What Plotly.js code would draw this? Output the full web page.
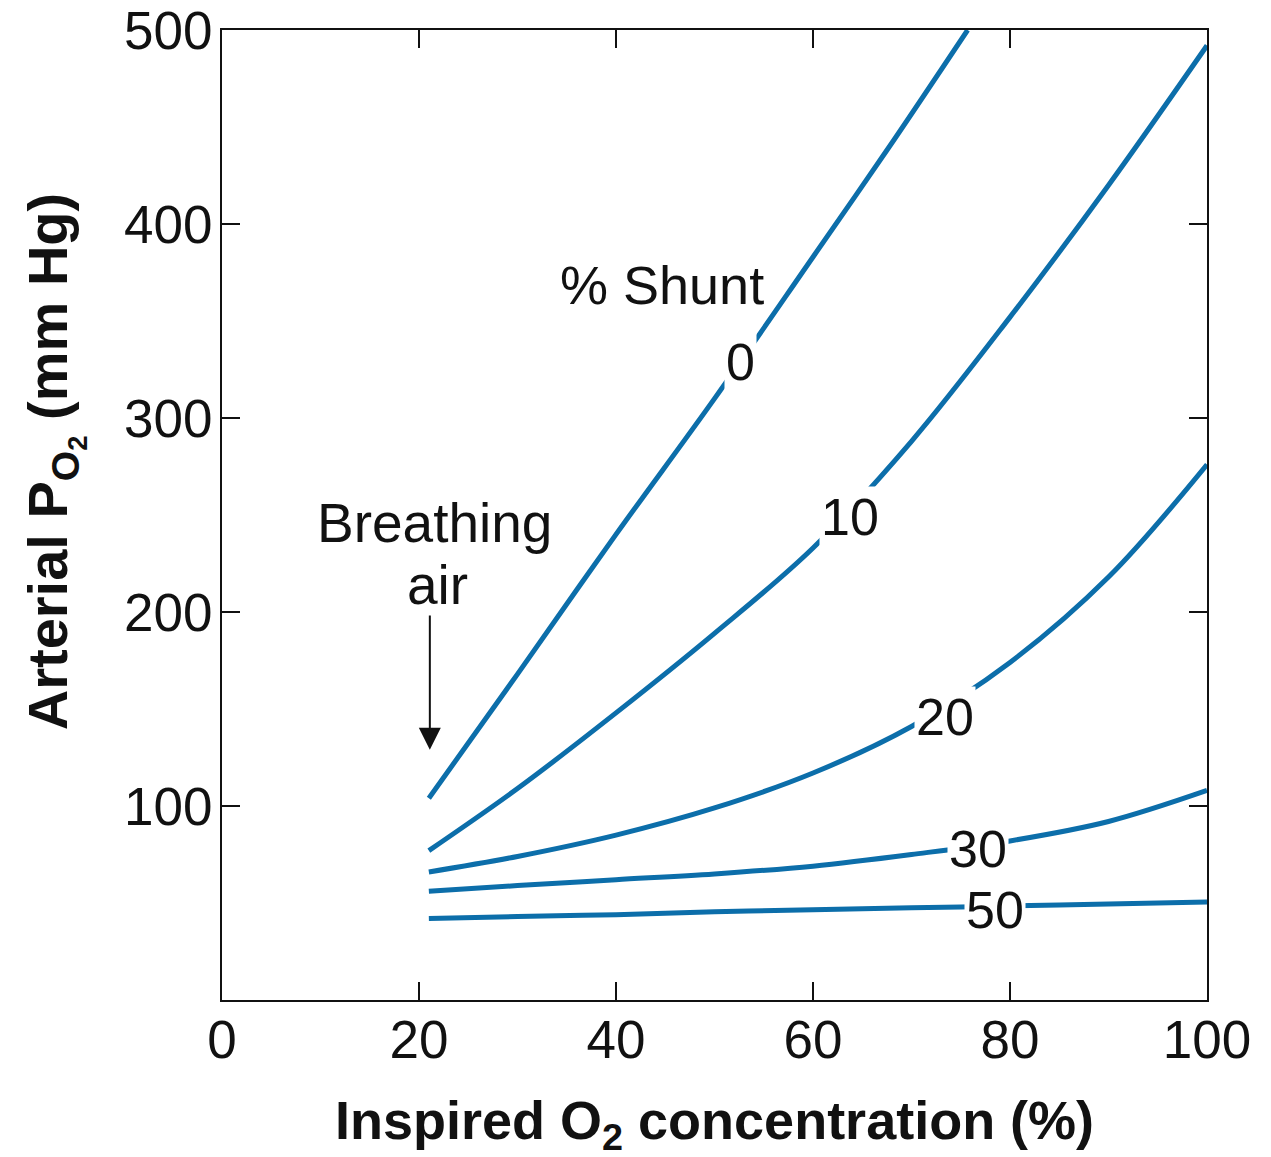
<!DOCTYPE html>
<html>
<head>
<meta charset="utf-8">
<script src="https://cdn.plot.ly/plotly-3.0.1.min.js"></script>
<style>html,body{margin:0;padding:0;background:#fff;}#chart{width:1271px;height:1157px;}</style>
</head>
<body>
<div id="chart"></div>
<script>
// Inspired O2 concentration (%) sample points
const xCommon = [21, 30, 40, 50, 60, 70, 80, 90, 100];
// Shunt 0% reaches the top of the axis at ~75.7 %
const x0 = [21, 30, 40, 50, 60, 67.5, 75.7];
const y0 = [104, 168, 240, 310, 383, 438, 500];
const y10 = [77, 109, 148, 189, 233, 288, 352, 420, 492];
const y20 = [66, 74, 85, 99, 117, 141, 174, 218, 276];
const y30 = [56, 59, 62, 65, 69, 75, 82, 92, 108];
const y50 = [42, 43, 44, 45.5, 46.5, 47.5, 48.5, 49.5, 50.5];

const shuntLabels = ["0", "10", "20", "30", "50"];
const labelX = [52.6, 63.8, 73.4, 76.75, 78.5];
const labelY = [329, 249, 146, 78, 46.4];

const xTicks = [0, 20, 40, 60, 80, 100];
const yTicks = [100, 200, 300, 400, 500];

const lineColor = 'rgb(12,110,170)';
const FONT = 'Liberation Sans, Arial, Helvetica, sans-serif';

function tr(x, y) {
  return {x: x, y: y, type: 'scatter', mode: 'lines', line: {color: lineColor, width: 5, shape: 'spline', smoothing: 1},
    hoverinfo: 'skip', showlegend: false, cliponaxis: true};
}
const data = [tr(x0, y0), tr(xCommon, y10), tr(xCommon, y20), tr(xCommon, y30), tr(xCommon, y50)];

const annotations = shuntLabels.map((t, i) => ({
  x: labelX[i], y: labelY[i], xref: 'x', yref: 'y', text: t, showarrow: false,
  font: {family: FONT, size: 52, color: '#111'}, bgcolor: '#ffffff', borderpad: 1,
  xanchor: 'center', yanchor: 'middle'
}));
annotations.push({x: 44.7, y: 368.6, xref: 'x', yref: 'y', text: '% Shunt', showarrow: false,
  font: {family: FONT, size: 54, color: '#111'}, xanchor: 'center', yanchor: 'middle'});
annotations.push({x: 21.6, y: 246, xref: 'x', yref: 'y', text: 'Breathing', showarrow: false,
  font: {family: FONT, size: 55, color: '#111'}, xanchor: 'center', yanchor: 'middle'});
annotations.push({x: 21.9, y: 214, xref: 'x', yref: 'y', text: 'air', showarrow: false,
  font: {family: FONT, size: 55, color: '#111'}, xanchor: 'center', yanchor: 'middle'});
annotations.push({x: 21.1, y: 129, xref: 'x', yref: 'y', ax: 21.1, ay: 199, axref: 'x', ayref: 'y',
  text: '', showarrow: true, arrowhead: 2, arrowsize: 2.2, arrowwidth: 2, arrowcolor: '#111'});
annotations.push({x: 0.5, y: -0.128, xref: 'paper', yref: 'paper', text: '<b>Inspired O<sub>2</sub> concentration (%)</b>',
  showarrow: false, font: {family: FONT, size: 54, color: '#111'}, xanchor: 'center', yanchor: 'middle'});
annotations.push({x: -0.17, y: 0.555, xref: 'paper', yref: 'paper', text: '<b>Arterial P<sub>O<sub>2</sub></sub> (mm Hg)</b>',
  showarrow: false, textangle: -90, font: {family: FONT, size: 56, color: '#111'}, xanchor: 'center', yanchor: 'middle'});

const axisCommon = {
  showgrid: false, zeroline: false, showline: true, mirror: 'ticks', linecolor: '#111', linewidth: 2,
  ticks: 'inside', ticklen: 18, tickwidth: 2, tickcolor: '#111',
  tickfont: {family: FONT, size: 53, color: '#111'}
};
const layout = {
  width: 1271, height: 1157,
  margin: {l: 222, r: 64, t: 30, b: 157},
  paper_bgcolor: '#fff', plot_bgcolor: '#fff',
  xaxis: Object.assign({}, axisCommon, {range: [0, 100], tickvals: xTicks, ticktext: xTicks.map(String), ticklabelstandoff: -8}),
  yaxis: Object.assign({}, axisCommon, {range: [0, 500], tickvals: yTicks, ticktext: yTicks.map(String), ticklabelstandoff: -3}),
  annotations: annotations,
  showlegend: false
};
Plotly.newPlot('chart', data, layout, {displayModeBar: false, staticPlot: true});
</script>
</body>
</html>
